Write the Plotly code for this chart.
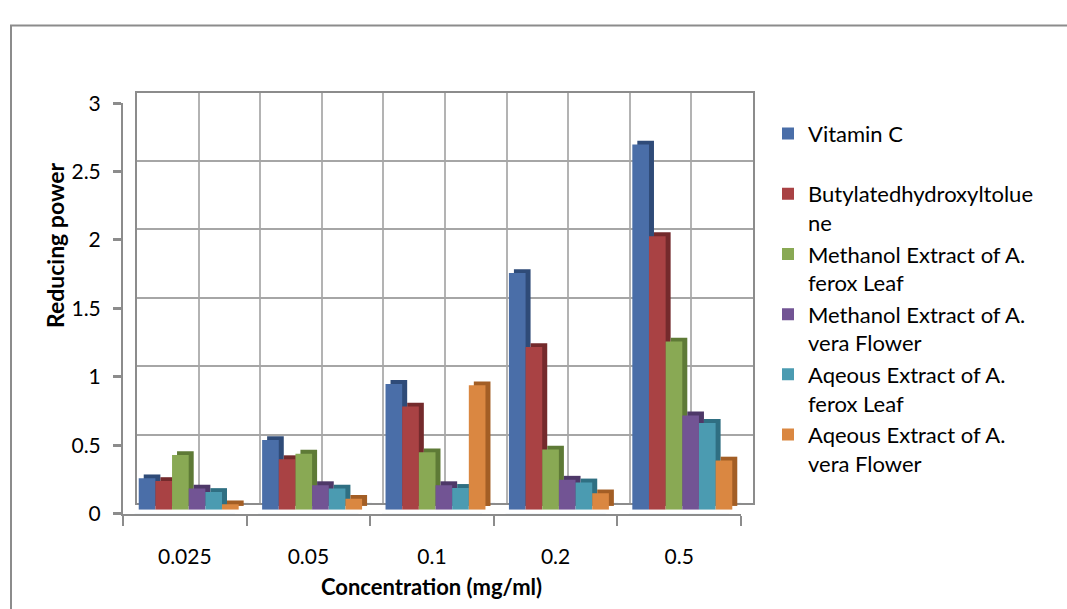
import plotly.graph_objects as go

categories = ["0.025", "0.05", "0.1", "0.2", "0.5"]
series_names = [
    "Vitamin C<br>&nbsp;",
    "Butylatedhydroxyltolue<br>ne",
    "Methanol Extract of A.<br>ferox Leaf",
    "Methanol Extract of A.<br>vera Flower",
    "Aqeous Extract of A.<br>ferox Leaf",
    "Aqeous Extract of A.<br>vera Flower",
]
vitamin_c = [0.23, 0.51, 0.92, 1.73, 2.67]
bht = [0.21, 0.37, 0.755, 1.19, 2.0]
meoh_ferox_leaf = [0.40, 0.41, 0.42, 0.44, 1.23]
meoh_vera_flower = [0.155, 0.18, 0.18, 0.22, 0.69]
aq_ferox_leaf = [0.13, 0.155, 0.16, 0.20, 0.635]
aq_vera_flower = [0.04, 0.08, 0.91, 0.12, 0.36]
y_ticks = [0, 0.5, 1, 1.5, 2, 2.5, 3]

series_values = [vitamin_c, bht, meoh_ferox_leaf, meoh_vera_flower, aq_ferox_leaf, aq_vera_flower]
front_colors = ["#4A6EA8", "#A94244", "#89A954", "#725494", "#4B9BB1", "#DA8741"]
side_colors = ["#2F4B78", "#742A2C", "#5E7A36", "#4E3868", "#2F6F82", "#A35E25"]

W, H = 1067, 609
xpos = list(range(len(categories)))

def px_x(a, b):
    return [a / W, b / W]

def px_y(bottom, top):
    return [1 - bottom / H, 1 - top / H]

fig = go.Figure()

# back wall subplot (grid) - x/y
fig.add_trace(go.Bar(x=xpos, y=[0] * len(xpos), xaxis="x", yaxis="y", showlegend=False,
                     hoverinfo="skip", marker_color="rgba(0,0,0,0)"))

# depth faces - x2/y2
for vals, col in zip(series_values, side_colors):
    fig.add_trace(go.Bar(x=xpos, y=vals, xaxis="x2", yaxis="y2", marker_color=col,
                         marker_line_width=0, showlegend=False, hoverinfo="skip"))

# front faces - x3/y3
for name, vals, col in zip(series_names, series_values, front_colors):
    fig.add_trace(go.Bar(x=xpos, y=vals, xaxis="x3", yaxis="y3", name=name,
                         marker_color=col, marker_line_width=0))

# invisible trace on the subplot carrying the front axes / tick labels - x4/y4
fig.add_trace(go.Bar(x=xpos, y=[0] * len(xpos), xaxis="x4", yaxis="y4", showlegend=False,
                     hoverinfo="skip", marker_color="rgba(0,0,0,0)"))

dx, dy = 5, 4
font_family = "Lato, 'Open Sans', sans-serif"
bar_l, bar_r, bar_b, bar_t = 127, 744, 517, 89

fig.update_layout(
    width=W, height=H,
    margin=dict(l=0, r=0, t=0, b=0),
    paper_bgcolor="white", plot_bgcolor="rgba(0,0,0,0)",
    barmode="group", bargap=0.19, bargroupgap=0,
    font=dict(family=font_family, size=21, color="#000000"),
    xaxis=dict(domain=px_x(137, 753), range=[-0.5, 4.5], tick0=-0.5, dtick=0.5,
               showgrid=True, gridcolor="#b3b3b3", gridwidth=2, showticklabels=False,
               ticks="", showline=True, mirror=True, linecolor="#8c8c8c", linewidth=2,
               zeroline=False, anchor="y"),
    yaxis=dict(domain=px_y(510, 82), range=[0, 3], dtick=0.5, showgrid=True,
               gridcolor="#a6a6a6", gridwidth=2, showticklabels=False, ticks="",
               showline=True, mirror=True, linecolor="#8c8c8c", linewidth=2,
               zeroline=False, anchor="x"),
    xaxis2=dict(domain=px_x(bar_l + dx, bar_r + dx), range=[-0.5, 4.5], visible=False, anchor="y2"),
    yaxis2=dict(domain=px_y(bar_b - dy, bar_t - dy), range=[0, 3], visible=False, anchor="x2"),
    xaxis3=dict(domain=px_x(bar_l, bar_r), range=[-0.5, 4.5], visible=False, anchor="y3"),
    yaxis3=dict(domain=px_y(bar_b, bar_t), range=[0, 3], visible=False, anchor="x3"),
    xaxis4=dict(domain=px_x(123, 741), range=[-0.5, 4.5], tickvals=xpos, ticktext=categories,
                ticks="", showgrid=False, zeroline=False, showline=True, linecolor="#8c8c8c",
                linewidth=2, ticklabelstandoff=23, tickfont=dict(size=21),
                minor=dict(tick0=-0.5, dtick=1, ticks="outside", ticklen=10,
                           tickcolor="#8c8c8c", tickwidth=2, showgrid=False),
                anchor="y4"),
    yaxis4=dict(domain=px_y(521, 93), range=[0, 3], tickvals=y_ticks,
                ticktext=[f"{v:g}" for v in y_ticks], ticks="outside", ticklen=8,
                tickcolor="#8c8c8c", tickwidth=3, showgrid=False, zeroline=False,
                showline=True, linecolor="#8c8c8c", linewidth=2, tickfont=dict(size=21),
                ticklabelstandoff=8, anchor="x4"),
    legend=dict(x=768 / W, y=1 - 103 / H, xanchor="left", yanchor="top",
                font=dict(size=22, family=font_family), valign="top",
                bgcolor="rgba(0,0,0,0)", traceorder="normal", itemsizing="constant"),
    shapes=[dict(type="rect", xref="paper", yref="paper", x0=11 / W, x1=1.05,
                 y0=-0.05, y1=1 - 12 / H, line=dict(color="#8c8c8c", width=2),
                 fillcolor="rgba(0,0,0,0)", layer="below")],
    annotations=[
        dict(text="<b>Reducing power</b>", xref="paper", yref="paper", x=55 / W,
             y=1 - 241 / H, xanchor="center", yanchor="middle", textangle=-90,
             showarrow=False, font=dict(size=23)),
        dict(text="<b>Concentration (mg/ml)</b>", xref="paper", yref="paper", x=431 / W,
             y=1 - 597 / H, xanchor="center", yanchor="middle", showarrow=False,
             font=dict(size=22)),
    ],
)

fig.write_html("out.html")
